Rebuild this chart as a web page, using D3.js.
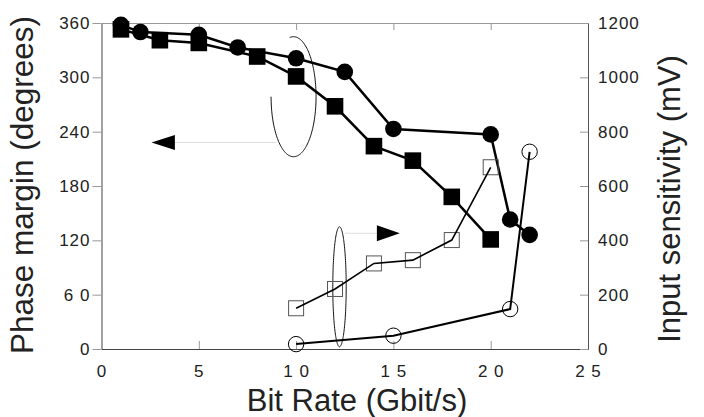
<!DOCTYPE html>
<html>
<head>
<meta charset="utf-8">
<script src="https://cdn.jsdelivr.net/npm/d3@7"></script>
<style>
  body { margin: 0; background: #fff; }
  svg { font-family: "Liberation Sans", Arial, sans-serif; }
</style>
</head>
<body>
<div class="chart"></div>
<script>
// phase margin series (left axis, degrees)
var circleRate = [1, 2, 5, 7, 10, 12.5, 15, 20, 21, 22];
var circleDeg = [358, 350, 347, 333, 321, 306, 243, 237, 143, 126];
var squareRate = [1, 3, 5, 8, 10, 12, 14, 16, 18, 20];
var squareDeg = [353, 341, 338, 323, 301, 268, 224, 208, 168, 121];
// input sensitivity series (right axis, mV)
var openSquareRate = [10, 12, 14, 16, 18, 20];
var openSquareMv = [150, 221, 315, 327, 401, 669];
var openCircleRate = [10, 15, 21, 22];
var openCircleMv = [18, 49, 147, 726];

var xTicks = [0, 5, 10, 15, 20, 25];
var xTickLabels = ["0", "5", "1 0", "1 5", "2 0", "2 5"];
var leftTicks = [0, 60, 120, 180, 240, 300, 360];
var leftTickLabels = ["0", "6 0", "120", "180", "240", "300", "360"];
var rightTicks = [0, 200, 400, 600, 800, 1000, 1200];

var width = 704, height = 417;
var margin = { top: 23, right: 116, bottom: 68, left: 101.5 };
var plotW = width - margin.left - margin.right;
var plotH = height - margin.top - margin.bottom;

var svg = d3.select(".chart")
  .append("svg")
    .attr("width", width)
    .attr("height", height);

var x = d3.scaleLinear().domain([0, 25]).range([margin.left, margin.left + plotW]);
var yL = d3.scaleLinear().domain([0, 360]).range([margin.top + plotH, margin.top]);
var yR = d3.scaleLinear().domain([0, 1200]).range([margin.top + plotH, margin.top]);

// axes
var bottom = svg.append("g")
  .attr("transform", "translate(0," + (margin.top + plotH) + ")")
  .call(d3.axisBottom(x).tickValues(xTicks).tickSizeInner(-8).tickSizeOuter(0).tickPadding(16)
    .tickFormat(function(d, i) { return xTickLabels[i]; }));
var top_ = svg.append("g")
  .attr("transform", "translate(0," + margin.top + ")")
  .call(d3.axisTop(x).tickValues([5, 10, 15, 20]).tickSizeInner(-7).tickSizeOuter(0).tickFormat(""));
var left = svg.append("g")
  .attr("transform", "translate(" + margin.left + ",0)")
  .call(d3.axisLeft(yL).tickValues(leftTicks).tickSizeInner(9).tickSizeOuter(0).tickPadding(2)
    .tickFormat(function(d, i) { return leftTickLabels[i]; }));
var right = svg.append("g")
  .attr("transform", "translate(" + (margin.left + plotW) + ",0)")
  .call(d3.axisRight(yR).tickValues(rightTicks).tickSizeInner(-8).tickSizeOuter(0).tickPadding(10)
    .tickFormat(d3.format("d")));

[bottom, top_, left, right].forEach(function(g) {
  g.selectAll("text").style("font-size", "17px").style("letter-spacing", "1px").style("fill", "#222");
  g.selectAll(".tick line").style("stroke", "#999");
});
bottom.select(".domain").style("stroke", "#444");
left.select(".domain").style("stroke", "#444");
top_.select(".domain").style("stroke", "#999");
right.select(".domain").style("stroke", "#555");
bottom.selectAll(".tick").filter(function(d) { return d == 0 || d == 25; }).select("line").remove();

// axis titles
svg.append("text")
  .attr("x", 357).attr("y", 411)
  .style("text-anchor", "middle").style("font-size", "31px").style("fill", "#222")
  .text("Bit Rate (Gbit/s)");
svg.append("text")
  .attr("transform", "translate(33,185) rotate(-90)")
  .style("text-anchor", "middle").style("font-size", "31.5px").style("fill", "#222")
  .text("Phase margin (degrees)");
svg.append("text")
  .attr("transform", "translate(680,199) rotate(-90)")
  .style("text-anchor", "middle").style("font-size", "31px").style("fill", "#222")
  .text("Input sensitivity (mV)");

function pts(xs, ys) { return xs.map(function(d, i) { return [d, ys[i]]; }); }
var lineL = d3.line().x(function(d) { return x(d[0]); }).y(function(d) { return yL(d[1]); });
var lineR = d3.line().x(function(d) { return x(d[0]); }).y(function(d) { return yR(d[1]); });

// annotation: ellipses and arrows
function ellipse(cx, cy, rx, ry, a0, a1) {
  var angles = d3.range(a0, a1 + 0.5, 2);
  return d3.line()(angles.map(function(a) {
    var t = a * Math.PI / 180;
    return [cx + rx * Math.cos(t), cy + ry * Math.sin(t)];
  }));
}
var ell1 = { rate: 9.87, val: 278.6, rx: 22.5, ry: 60 };
var ell2 = { rate: 12.23, val: 229, rx: 6.7, ry: 60 };
svg.append("path")
  .attr("d", ellipse(x(ell1.rate), yL(ell1.val), ell1.rx, ell1.ry, -100, 180))
  .style("fill", "none").style("stroke", "#111").style("stroke-width", 1);
svg.append("path")
  .attr("d", ellipse(x(ell2.rate), yR(ell2.val), ell2.rx, ell2.ry, 0, 360))
  .style("fill", "none").style("stroke", "#111").style("stroke-width", 1);

var arrowL = { from: 8.98, to: 3.77, tip: 2.57, val: 228 };
var arrowR = { from: 12.5, to: 14.15, tip: 15.33, val: 426 };
svg.append("line")
  .attr("x1", x(arrowL.from)).attr("x2", x(arrowL.to))
  .attr("y1", yL(arrowL.val)).attr("y2", yL(arrowL.val))
  .style("stroke", "#ddd");
svg.append("path")
  .attr("d", d3.line()([[x(arrowL.tip), yL(arrowL.val)], [x(arrowL.to), yL(arrowL.val) - 7.5], [x(arrowL.to), yL(arrowL.val) + 7.5]]) + "Z")
  .style("fill", "#000");
svg.append("line")
  .attr("x1", x(arrowR.from)).attr("x2", x(arrowR.to))
  .attr("y1", yR(arrowR.val)).attr("y2", yR(arrowR.val))
  .style("stroke", "#ddd");
svg.append("path")
  .attr("d", d3.line()([[x(arrowR.tip), yR(arrowR.val)], [x(arrowR.to), yR(arrowR.val) - 8], [x(arrowR.to), yR(arrowR.val) + 8]]) + "Z")
  .style("fill", "#000");

// phase margin lines + markers
svg.append("path").attr("d", lineL(pts(squareRate, squareDeg)))
  .style("fill", "none").style("stroke", "#000").style("stroke-width", 2.5);
svg.append("path").attr("d", lineL(pts(circleRate, circleDeg)))
  .style("fill", "none").style("stroke", "#000").style("stroke-width", 2.5);
svg.selectAll("rect.fsq").data(pts(squareRate, squareDeg)).enter().append("rect")
  .attr("x", function(d) { return x(d[0]) - 8.3; })
  .attr("y", function(d) { return yL(d[1]) - 8.3; })
  .attr("width", 16.6).attr("height", 16.6)
  .style("fill", "#000");
svg.selectAll("circle.fc").data(pts(circleRate, circleDeg)).enter().append("circle")
  .attr("cx", function(d) { return x(d[0]); })
  .attr("cy", function(d) { return yL(d[1]); })
  .attr("r", 8.3)
  .style("fill", "#000");

// sensitivity lines + markers
svg.selectAll("rect.osq").data(pts(openSquareRate, openSquareMv)).enter().append("rect")
  .attr("x", function(d) { return x(d[0]) - 7.5; })
  .attr("y", function(d) { return yR(d[1]) - 7.5; })
  .attr("width", 15).attr("height", 15)
  .style("fill", "none").style("stroke", "#555").style("stroke-width", 1);
svg.selectAll("circle.oc").data(pts(openCircleRate, openCircleMv)).enter().append("circle")
  .attr("cx", function(d) { return x(d[0]); })
  .attr("cy", function(d) { return yR(d[1]); })
  .attr("r", 7.7)
  .style("fill", "none").style("stroke", "#000").style("stroke-width", 1);
svg.append("path").attr("d", lineR(pts(openSquareRate, openSquareMv)))
  .style("fill", "none").style("stroke", "#000").style("stroke-width", 1.6);
svg.append("path").attr("d", lineR(pts(openCircleRate, openCircleMv)))
  .style("fill", "none").style("stroke", "#000").style("stroke-width", 2);
</script>
</body>
</html>
